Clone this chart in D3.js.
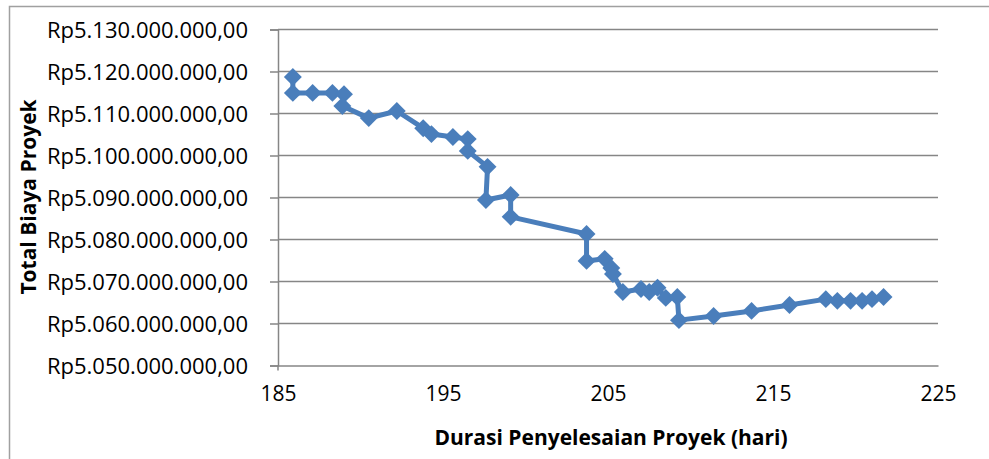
<!DOCTYPE html>
<html>
<head>
<meta charset="utf-8">
<script src="https://cdn.jsdelivr.net/npm/d3@7"></script>
<style>
  body { margin: 0; background: #fff; }
  svg { display: block; }
  text { font-family: "Open Sans", "Noto Sans", sans-serif; fill: #000; }
</style>
</head>
<body>
<svg width="989" height="459"></svg>
<script>
// durasi (hari) and total biaya (Rp)
var durasi = [185.9, 185.9, 187.1, 188.3, 189.0, 188.9, 190.5, 192.2, 193.8, 194.3,
              195.6, 196.5, 196.5, 197.7, 197.6, 199.1, 199.1, 203.7, 203.7, 204.8,
              205.2, 205.3, 205.9, 207.0, 207.5, 208.0, 208.5, 209.2, 209.3, 211.4,
              213.7, 216.0, 218.2, 218.9, 219.7, 220.4, 221.0, 221.7];
var biaya = [5118.7, 5114.9, 5114.9, 5114.9, 5114.6, 5111.8, 5108.9, 5110.6, 5106.5, 5105.1,
             5104.4, 5103.9, 5101.1, 5097.3, 5089.4, 5090.6, 5085.4, 5081.3, 5074.9, 5075.4,
             5073.2, 5071.8, 5067.5, 5068.2, 5067.5, 5068.5, 5066.1, 5066.3, 5060.8, 5061.8,
             5063.0, 5064.4, 5065.8, 5065.4, 5065.4, 5065.4, 5065.8, 5066.3].map(function(v) { return v * 1e6; });
var xTicks = [185, 195, 205, 215, 225];
var yTicks = [5.05e9, 5.06e9, 5.07e9, 5.08e9, 5.09e9, 5.10e9, 5.11e9, 5.12e9, 5.13e9];

var points = [];
for (var i = 0; i < durasi.length; i++) {
	points.push({x: durasi[i], y: biaya[i]});
}

var svg = d3.select("svg");
var margin = {top: 29.5, right: 51, bottom: 93.5, left: 278};
var width = 989 - margin.left - margin.right,
    height = 459 - margin.top - margin.bottom;

// chart area border (only top and left visible in the picture)
svg.append("path").attr("d", "M9.5,459V6.5H989").attr("fill", "none").attr("stroke", "#a0a0a0").attr("stroke-width", 1.5);

var g = svg.append("g").attr("transform", "translate(" + margin.left + "," + margin.top + ")");

var x = d3.scaleLinear().domain([185, 225]).range([0, width]);
var y = d3.scaleLinear().domain([5.05e9, 5.13e9]).range([height, 0]);

function rupiah(v) {
	var s = Math.round(v).toString().replace(/\B(?=(\d{3})+(?!\d))/g, ".");
	return "Rp" + s + ",00";
}

// gridlines
g.selectAll(".grid").data(yTicks.slice(1)).enter().append("line")
	.attr("x1", 0).attr("x2", width)
	.attr("y1", function(d) { return y(d); }).attr("y2", function(d) { return y(d); })
	.attr("stroke", "#868686").attr("stroke-width", 1.5);

// y axis
var yAxis = g.append("g").call(d3.axisLeft(y).tickValues(yTicks).tickSize(8).tickPadding(22).tickFormat(rupiah));
yAxis.select(".domain").attr("stroke", "#868686").attr("stroke-width", 1.5);
yAxis.selectAll(".tick line").attr("stroke", "#868686").attr("stroke-width", 1.5);
yAxis.selectAll(".tick text").style("font-size", "22px").attr("dy", "0.35em");

// x axis
var xAxis = g.append("g").attr("transform", "translate(0," + height + ")")
	.call(d3.axisBottom(x).tickValues(xTicks).tickSize(0).tickPadding(21).tickFormat(d3.format("d")));
xAxis.select(".domain").attr("stroke", "#868686").attr("stroke-width", 1.5);
xAxis.selectAll(".tick text").style("font-size", "21px");
g.append("line").attr("x1", 0).attr("x2", 0).attr("y1", height).attr("y2", height + 5)
	.attr("stroke", "#868686").attr("stroke-width", 1.5);

// axis titles
svg.append("text").attr("x", 611).attr("y", 445).attr("text-anchor", "middle")
	.style("font-size", "21px").style("font-weight", "bold").text("Durasi Penyelesaian Proyek (hari)");
svg.append("text").attr("transform", "translate(36,197) rotate(-90)").attr("text-anchor", "middle")
	.style("font-size", "21px").style("font-weight", "bold").text("Total Biaya Proyek");

// series
var line = d3.line().x(function(d) { return x(d.x); }).y(function(d) { return y(d.y); });
g.append("path").datum(points).attr("d", line)
	.attr("fill", "none").attr("stroke", "#4a7ebb").attr("stroke-width", 5).attr("stroke-linejoin", "round");

var diamond = d3.symbol().type(d3.symbolSquare).size(160);
g.selectAll(".pt").data(points).enter().append("path")
	.attr("d", diamond)
	.attr("transform", function(d) { return "translate(" + x(d.x) + "," + y(d.y) + ") rotate(45)"; })
	.attr("fill", "#4a7ebb");
</script>
</body>
</html>
